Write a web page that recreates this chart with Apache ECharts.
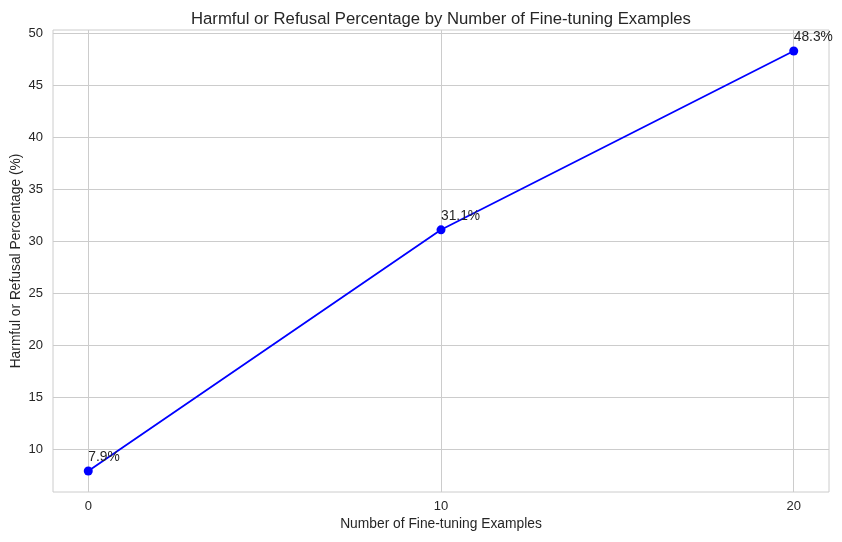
<!DOCTYPE html>
<html>
<head>
<meta charset="utf-8">
<script src="https://cdn.jsdelivr.net/npm/echarts@6/dist/echarts.min.js"></script>
<style>
  html, body { margin: 0; padding: 0; background: #fff; }
  #chart { width: 842px; height: 542px; }
</style>
</head>
<body>
<div id="chart"></div>
<script>
// 数据
const examples = [0, 10, 20];
const percentages = [7.9, 31.1, 48.3];
const xTicks = [0, 10, 20];
const yTicks = [10, 15, 20, 25, 30, 35, 40, 45, 50];

const textColor = '#262626';
const gridColor = '#cccccc';
const font = 'Liberation Sans, Arial, sans-serif';
const fs = 13.8;     // 轴标题、注释
const tickFs = 13;   // 刻度标签

const chart = echarts.init(document.getElementById('chart'));

const option = {
    backgroundColor: '#ffffff',
    animation: false,
    title: {
        text: 'Harmful or Refusal Percentage by Number of Fine-tuning Examples',
        left: 436,
        top: 6,
        textAlign: 'center',
        textStyle: { fontFamily: font, fontSize: 16.7, fontWeight: 'normal', color: textColor }
    },
    grid: {
        left: 53, right: 13, top: 30, bottom: 50,
        outerBoundsMode: 'none',
        show: true,
        borderColor: gridColor,
        borderWidth: 1
    },
    xAxis: {
        type: 'value',
        min: -1,
        max: 21,
        name: 'Number of Fine-tuning Examples',
        nameLocation: 'middle',
        nameGap: 25,
        nameMoveOverlap: false,
        nameTextStyle: { fontFamily: font, fontSize: fs, color: textColor },
        axisLine: { show: false },
        axisTick: { show: false, customValues: xTicks },
        axisLabel: { customValues: xTicks, margin: 8, fontFamily: font, fontSize: tickFs, color: textColor },
        splitLine: { show: false }
    },
    yAxis: {
        type: 'value',
        min: 5.88,
        max: 50.32,
        name: 'Harmful or Refusal Percentage (%)',
        nameLocation: 'middle',
        nameGap: 30,
        nameMoveOverlap: false,
        nameTextStyle: { fontFamily: font, fontSize: fs, color: textColor },
        axisLine: { show: false },
        axisTick: { show: false, customValues: yTicks },
        axisLabel: { customValues: yTicks, margin: 10, fontFamily: font, fontSize: tickFs, color: textColor },
        splitLine: { show: false }
    },
    series: [
        {
            // 网格线
            type: 'line',
            data: [],
            silent: true,
            markLine: {
                silent: true,
                symbol: 'none',
                label: { show: false },
                lineStyle: { color: gridColor, width: 1, type: 'solid' },
                data: xTicks.map(v => ({ xAxis: v })).concat(yTicks.map(v => ({ yAxis: v })))
            }
        },
        {
            type: 'line',
            data: examples.map((x, i) => [x, percentages[i]]),
            symbol: 'circle',
            symbolSize: 9,
            lineStyle: { color: '#0000ff', width: 1.8 },
            itemStyle: { color: '#0000ff' },
            z: 5,
            label: {
                show: true,
                position: 'top',
                align: 'left',
                distance: 2,
                fontFamily: font,
                fontSize: fs,
                color: textColor,
                formatter: p => p.value[1].toFixed(1) + '%'
            }
        }
    ]
};

chart.setOption(option);
</script>
</body>
</html>
